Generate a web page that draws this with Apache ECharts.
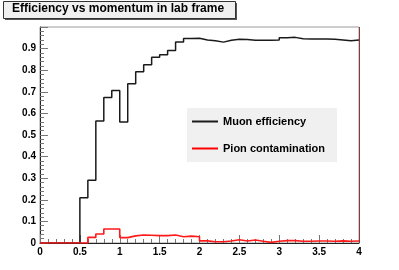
<!DOCTYPE html>
<html><head><meta charset="utf-8">
<script src="https://cdn.jsdelivr.net/npm/echarts@6/dist/echarts.min.js"></script>
<style>html,body{margin:0;padding:0;background:#fff}#c{width:399px;height:270px}</style>
</head><body><div id="c"></div>
<script>
var binEdges = [0,0.1,0.2,0.3,0.4,0.5,0.6,0.7,0.8,0.9,1.0,1.1,1.2,1.3,1.4,1.5,1.6,1.7,1.8,1.9,
  2.0,2.1,2.2,2.3,2.4,2.5,2.6,2.7,2.8,2.9,3.0,3.1,3.2,3.3,3.4,3.5,3.6,3.7,3.8,3.9,4.0];
var muonEfficiency = [0,0,0,0,0,0.21,0.29,0.565,0.674,0.706,0.56,0.737,0.793,0.825,0.86,0.871,0.891,0.93,0.947,0.948,
  0.94,0.936,0.930,0.939,0.943,0.942,0.939,0.939,0.939,0.940,0.950,0.952,0.946,0.945,0.944,0.944,0.943,0.940,0.936,0.940];
var pionContamination = [0,0,0,0,0,0,0.026,0.042,0.065,0.065,0.025,0.033,0.037,0.036,0.034,0.034,0.037,0.029,0.032,0.029,
  0.010,0.006,0.006,0.009,0.015,0.009,0.014,0.008,0.003,0.008,0.011,0.011,0.008,0.008,0.009,0.009,0.008,0.010,0.008,0.009];
var seriesNames = ['Muon efficiency','Pion contamination'];
var titleText = 'Efficiency vs momentum in lab frame';

function histData(vals){
  var d = vals.map(function(v,i){ return [binEdges[i], v]; });
  d.push([binEdges[binEdges.length-1], vals[vals.length-1]]);
  return d;
}
var font = 'Liberation Sans, Arial, Helvetica, sans-serif';
var chart = echarts.init(document.getElementById('c'), null, {renderer:'canvas'});
chart.setOption({
  animation:false,
  backgroundColor:'#fff',
  grid:{left:40,right:40,top:27,bottom:27,show:true,borderColor:'#9a9a9a',borderWidth:1,backgroundColor:'#fff'},
  xAxis:{type:'value',min:0,max:4,interval:0.5,
    axisLine:{show:true,onZero:false,lineStyle:{color:'#222',width:1}},
    axisTick:{show:true,inside:true,length:8,lineStyle:{color:'#777'}},
    minorTick:{show:true,splitNumber:5,length:4,lineStyle:{color:'#777'}},
    splitLine:{show:false},
    axisLabel:{fontFamily:font,fontWeight:'bold',fontSize:10,color:'#000',margin:4,showMinLabel:true,showMaxLabel:true}
  },
  yAxis:{type:'value',min:0,max:1,interval:0.1,
    axisLine:{show:true,onZero:false,lineStyle:{color:'#222',width:1}},
    axisTick:{show:true,inside:true,length:8,lineStyle:{color:'#777'}},
    minorTick:{show:true,splitNumber:5,length:4,lineStyle:{color:'#777'}},
    splitLine:{show:false},
    axisLabel:{fontFamily:font,fontWeight:'bold',fontSize:10,color:'#000',margin:4,
      formatter:function(v){ return v > 0.95 ? '' : String(Math.round(v*10)/10); }}
  },
  legend:{show:true,orient:'vertical',left:187,top:108,
    backgroundColor:'#f0f0f0',borderWidth:0,
    padding:[8,12,8,5],itemGap:16,itemWidth:26,itemHeight:2,icon:'rect',
    textStyle:{fontFamily:font,fontWeight:'bold',fontSize:11,color:'#000'},
    data:seriesNames
  },
  series:[
    {name:seriesNames[0],type:'line',step:'end',symbol:'none',data:histData(muonEfficiency),
      color:'#1a1a1a',lineStyle:{color:'#1a1a1a',width:1.5},z:3},
    {name:seriesNames[1],type:'line',step:'end',symbol:'none',data:histData(pionContamination),
      color:'#ff0000',lineStyle:{color:'#ff1a1a',width:1.6},z:4,
      markLine:{silent:true,symbol:'none',label:{show:false},animation:false,
        lineStyle:{color:'#8b3a3a',width:1,type:'solid'},
        data:[{xAxis:binEdges[binEdges.length-1]}]}}
  ],
  graphic:[
    {type:'rect',left:5,top:3,shape:{width:232,height:17},style:{fill:'#555'},z:10},
    {type:'rect',left:3,top:1,shape:{width:232,height:17},style:{fill:'#f0f0f0',stroke:'#333',lineWidth:1},z:11},
    {type:'text',left:12,top:3,style:{text:titleText,font:'bold 12px '+font,fill:'#000'},z:12}
  ]
});
</script></body></html>
